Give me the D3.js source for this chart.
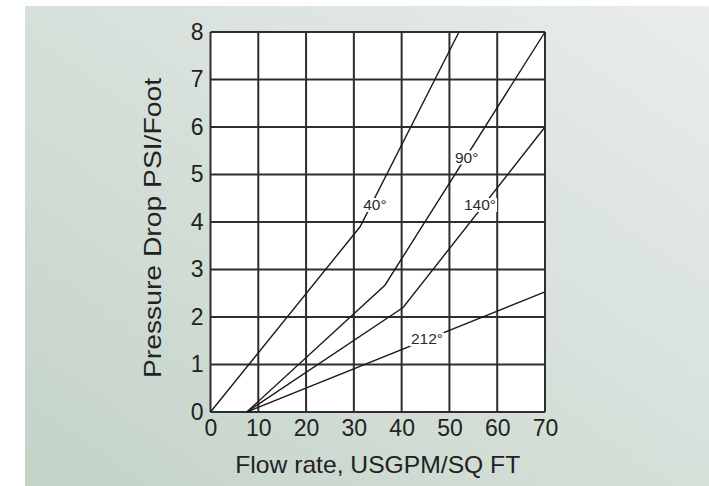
<!DOCTYPE html>
<html><head><meta charset="utf-8">
<script src="https://cdn.jsdelivr.net/npm/d3@7"></script>
<style>html,body{margin:0;padding:0;background:#fff}svg{display:block}</style>
</head><body>
<script>
// ---- data ----
const xTicks = [0, 10, 20, 30, 40, 50, 60, 70];
const yTicks = [0, 1, 2, 3, 4, 5, 6, 7, 8];
const seriesNames = ["40°", "90°", "140°", "212°"];
const flow40  = [0, 31.3, 52];
const drop40  = [0, 3.9, 8];
const flow90  = [7.6, 36.5, 70];
const drop90  = [0, 2.67, 8];
const flow140 = [7.6, 40.3, 70];
const drop140 = [0, 2.2, 6];
const flow212 = [7.6, 70];
const drop212 = [0, 2.53];
const labelFlow = [34.4, 53.6, 56.4, 45.3];
const labelDrop = [4.37, 5.37, 4.37, 1.54];
const xTitle = "Flow rate, USGPM/SQ FT";
const yTitle = "Pressure Drop PSI/Foot";

const W = 709, H = 486;
const svg = d3.select("body").append("svg").attr("width", W).attr("height", H);
const defs = svg.append("defs");
const grad = defs.append("linearGradient").attr("id", "bg")
  .attr("x1", "0%").attr("y1", "100%").attr("x2", "100%").attr("y2", "0%");
grad.append("stop").attr("offset", "0%").attr("stop-color", "#c3d3c8");
grad.append("stop").attr("offset", "100%").attr("stop-color", "#e9edeb");
svg.append("rect").attr("x", 25).attr("y", 6).attr("width", W - 25).attr("height", H - 6).attr("fill", "url(#bg)");

const x = d3.scaleLinear().domain([0, 70]).range([210.5, 545]);
const y = d3.scaleLinear().domain([0, 8]).range([412, 32]);

// plot background
svg.append("rect").attr("x", x(0)).attr("y", y(8)).attr("width", x(70) - x(0)).attr("height", y(0) - y(8)).attr("fill", "#fff");

const gridColor = "#2e2e2e";
svg.append("g").selectAll("line").data(xTicks).join("line")
  .attr("x1", d => x(d)).attr("x2", d => x(d)).attr("y1", y(0)).attr("y2", y(8))
  .attr("stroke", gridColor).attr("stroke-width", 2);
svg.append("g").selectAll("line").data(yTicks).join("line")
  .attr("x1", x(0)).attr("x2", x(70)).attr("y1", d => y(d)).attr("y2", d => y(d))
  .attr("stroke", gridColor).attr("stroke-width", 2);

const font = "'Liberation Sans', Arial, Helvetica, sans-serif";
const xAxis = svg.append("g").attr("transform", `translate(0,${y(0)})`)
  .call(d3.axisBottom(x).tickValues(xTicks).tickSize(0).tickPadding(8).tickFormat(d3.format("d")));
xAxis.select(".domain").remove();
xAxis.selectAll("text").attr("font-family", font).attr("font-size", 23).attr("fill", "#222");
const yAxis = svg.append("g").attr("transform", `translate(${x(0)},0)`)
  .call(d3.axisLeft(y).tickValues(yTicks).tickSize(0).tickPadding(7).tickFormat(d3.format("d")));
yAxis.select(".domain").remove();
yAxis.selectAll("text").attr("font-family", font).attr("font-size", 23).attr("fill", "#222");

const series = [
  {name: seriesNames[0], xs: flow40, ys: drop40},
  {name: seriesNames[1], xs: flow90, ys: drop90},
  {name: seriesNames[2], xs: flow140, ys: drop140},
  {name: seriesNames[3], xs: flow212, ys: drop212}
];
const line = d3.line().x(d => x(d[0])).y(d => y(d[1]));
svg.append("g").selectAll("path").data(series).join("path")
  .attr("d", s => line(s.xs.map((v, i) => [v, s.ys[i]])))
  .attr("fill", "none").attr("stroke", "#1a1a1a").attr("stroke-width", 1.4);

const lg = svg.append("g");
seriesNames.forEach((n, i) => {
  const t = lg.append("text").attr("x", x(labelFlow[i])).attr("y", y(labelDrop[i]))
    .attr("text-anchor", "middle").attr("dy", "0.36em")
    .attr("font-family", font).attr("font-size", 15.5).attr("fill", "#2a2a2a").text(n);
  const b = t.node().getBBox();
  lg.insert("rect", "text").attr("x", b.x - 1).attr("y", b.y + 2).attr("width", b.width + 2).attr("height", b.height - 3).attr("fill", "#fff");
});

svg.append("text").attr("x", (x(0) + x(70)) / 2).attr("y", 473).attr("text-anchor", "middle")
  .attr("font-family", font).attr("font-size", 24).attr("fill", "#222")
  .attr("textLength", 285).attr("lengthAdjust", "spacingAndGlyphs").text(xTitle);
svg.append("text").attr("transform", `translate(161,228) rotate(-90)`).attr("text-anchor", "middle")
  .attr("font-family", font).attr("font-size", 24).attr("fill", "#222")
  .attr("textLength", 300).attr("lengthAdjust", "spacingAndGlyphs").text(yTitle);
</script>
</body></html>
